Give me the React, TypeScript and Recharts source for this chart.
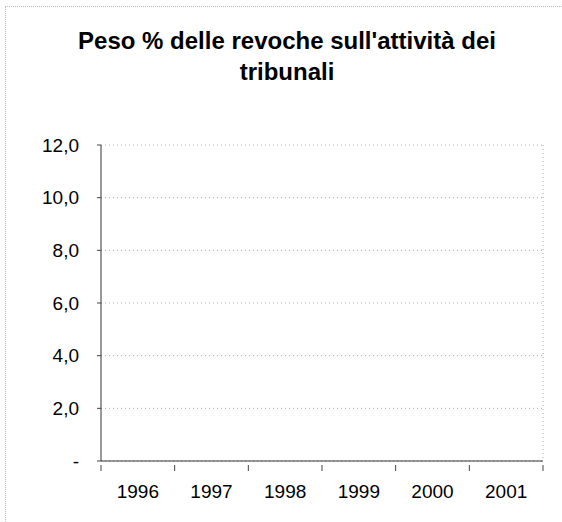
import { CartesianGrid, Line, LineChart, XAxis, YAxis } from "recharts";

// Years on the category axis
const years = ["1996", "1997", "1998", "1999", "2000", "2001"];
// The printed series is not visible in the scan: no values can be read
const pesoRevoche: (number | null)[] = [null, null, null, null, null, null];
const yTicks = [0, 2, 4, 6, 8, 10, 12];

const data = years.map((year, i) => ({ year, peso: pesoRevoche[i] }));

const FONT = "'Liberation Sans', Arial, sans-serif";

const formatY = (v: number) => (v === 0 ? "-" : v.toFixed(1).replace(".", ","));

function YearTick(props: any) {
  const { x, y, payload } = props;
  const half = payload?.offset || 36.8;
  return (
    <g>
      <line x1={x + half} x2={x + half} y1={y - 4} y2={y + 2} stroke="#444" />
      {payload.index === 0 && (
        <line x1={x - half} x2={x - half} y1={y - 4} y2={y + 2} stroke="#444" />
      )}
      <text
        x={x}
        y={y + 16}
        dy="0.71em"
        textAnchor="middle"
        fill="#000"
        fontSize={19}
        fontFamily={FONT}
      >
        {payload.value}
      </text>
    </g>
  );
}

export default function App() {
  return (
    <div
      style={{
        position: "absolute",
        left: 0,
        top: 0,
        width: 562,
        height: 522,
        background: "#fff",
        fontFamily: FONT,
      }}
    >
      <div
        style={{
          position: "absolute",
          left: 5,
          top: 6,
          right: 0,
          bottom: 0,
          borderLeft: "1px dotted #bbb",
          borderTop: "1px dotted #bbb",
        }}
      />
      <div
        style={{
          position: "absolute",
          left: 52,
          top: 25,
          width: 470,
          textAlign: "center",
          fontSize: 24,
          lineHeight: "31px",
          fontWeight: "bold",
          color: "#000",
        }}
      >
        Peso % delle revoche sull'attività dei
        <br />
        tribunali
      </div>
      <LineChart
        width={562}
        height={522}
        data={data}
        margin={{ top: 145, right: 19, bottom: 0, left: 0 }}
        style={{ position: "absolute", left: 0, top: 0 }}
      >
        <CartesianGrid
          vertical
          horizontal
          stroke="#aaa"
          strokeDasharray="1 3"
          verticalCoordinatesGenerator={({ offset }: any) => [offset.left + offset.width]}
        />
        <XAxis
          dataKey="year"
          scale="band"
          height={61}
          axisLine={{ stroke: "#333" }}
          tickLine={false}
          interval={0}
          tick={<YearTick />}
        />
        <YAxis
          type="number"
          width={101}
          domain={[0, 12]}
          allowDataOverflow
          ticks={yTicks}
          interval={0}
          axisLine={{ stroke: "#333" }}
          tickLine={{ stroke: "#444" }}
          tickSize={4}
          tickMargin={18}
          tickFormatter={formatY}
          tick={{ fill: "#000", fontSize: 19, fontFamily: FONT }}
        />
        <Line
          dataKey="peso"
          stroke="#333"
          dot={false}
          connectNulls={false}
          isAnimationActive={false}
        />
      </LineChart>
    </div>
  );
}
